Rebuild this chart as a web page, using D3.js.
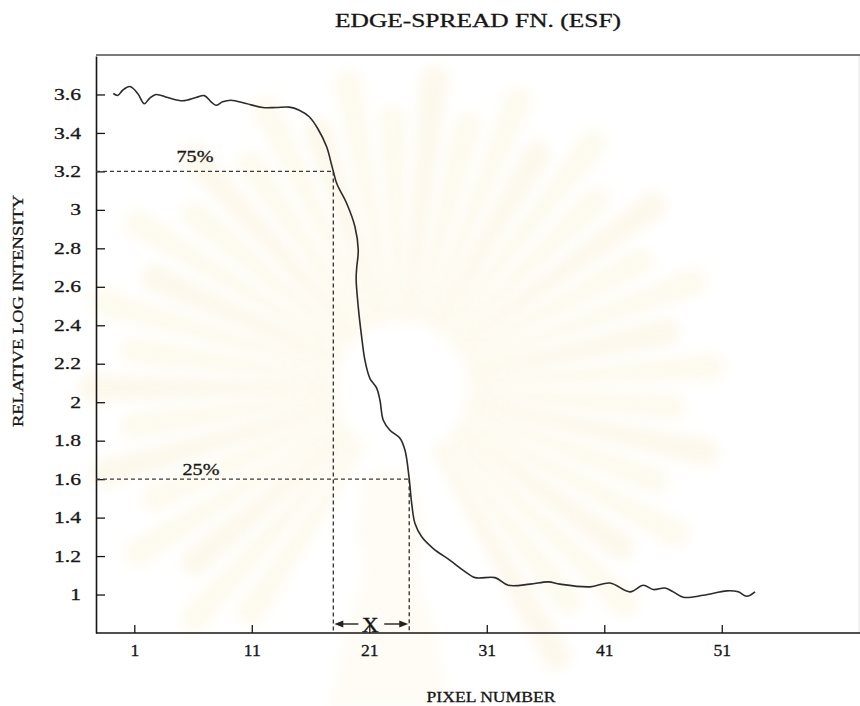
<!DOCTYPE html>
<html>
<head>
<meta charset="utf-8">
<script src="https://cdn.jsdelivr.net/npm/d3@7"></script>
<style>
  body { margin: 0; background: #fff; }
  svg { display: block; }
  text { font-family: "Liberation Serif", "Times New Roman", serif; fill: #161616; stroke: #161616; stroke-width: 0.3px; }
</style>
</head>
<body>
<svg id="chart" width="860" height="706"></svg>
<script>
// Edge-spread function samples: pixel position and relative log intensity
const pixelNumber = [
  -0.79, -0.41, 0.01, 0.63, 1.29, 1.85, 2.28, 2.85, 3.84, 5.12,
  6.25, 6.96, 7.53, 7.95, 8.52, 9.23, 10.51, 11.93, 13.06, 14.19,
  15.04, 15.89, 16.61, 17.37, 17.80, 17.94, 18.23, 19.08, 19.78, 20.06,
  19.93, 19.88, 20.06, 20.35, 20.63, 21.06, 21.63, 21.91, 22.19, 22.76,
  23.61, 24.04, 24.40, 24.61, 24.89, 25.46, 26.45, 27.87, 29.00, 30.00,
  31.70, 32.83, 34.68, 36.23, 37.23, 39.78, 41.49, 43.19, 44.32, 45.17,
  46.17, 46.87, 47.72, 49.43, 51.42, 52.40, 53.12, 53.83
];
const logIntensity = [
  3.605, 3.595, 3.622, 3.641, 3.605, 3.552, 3.579, 3.600, 3.584, 3.567,
  3.584, 3.594, 3.562, 3.544, 3.562, 3.570, 3.553, 3.532, 3.532, 3.534,
  3.518, 3.484, 3.423, 3.328, 3.232, 3.200, 3.137, 3.033, 2.912, 2.790,
  2.700, 2.640, 2.496, 2.340, 2.218, 2.123, 2.073, 2.010, 1.906, 1.854,
  1.813, 1.750, 1.600, 1.473, 1.369, 1.300, 1.239, 1.178, 1.126, 1.088,
  1.088, 1.048, 1.054, 1.066, 1.054, 1.040, 1.060, 1.014, 1.048, 1.026,
  1.034, 1.014, 0.986, 0.996, 1.019, 1.014, 0.991, 1.014
];

// Axis ticks
const xTicks = [1, 11, 21, 31, 41, 51];
const yTicks = [1, 1.2, 1.4, 1.6, 1.8, 2, 2.2, 2.4, 2.6, 2.8, 3, 3.2, 3.4, 3.6];

// 75% / 25% reference levels and the pixel where the edge crosses them
const levelLabels = ["75%", "25%"];
const levelValues = [3.2, 1.6];
const levelPixels = [17.94, 24.4];

const titleText = "EDGE-SPREAD FN. (ESF)";
const xTitle = "PIXEL NUMBER";
const yTitle = "RELATIVE LOG INTENSITY";
const widthLabel = "X";

const svg = d3.select("#chart");
const W = 860, H = 706;
const plotL = 96, plotR = 859, plotT = 56, plotB = 633;

const x = d3.scaleLinear().domain([-2.26, 62.68]).range([plotL, plotR]);
const y = d3.scaleLinear().domain([0.8, 3.8]).range([plotB, plotT]);

// Faint background emblem: blurred rays around a pale centre
const defs = svg.append("defs");
defs.append("filter").attr("id", "soft")
  .attr("x", "-20%").attr("y", "-20%").attr("width", "140%").attr("height", "140%")
  .append("feGaussianBlur").attr("stdDeviation", 6);

const emblem = svg.append("g").attr("filter", "url(#soft)").attr("opacity", 0.13);
const cx = 402, cy = 388;
const rayAngles = d3.range(-180, 180, 8).filter(a => !(a > 62 && a < 118));
rayAngles.forEach((a, i) => {
  const t = a * Math.PI / 180;
  const r0 = 66, r1 = 230 + (i % 2 ? 40 : 80);
  const w0 = 4, w1 = 14;
  const ux = Math.cos(t), uy = Math.sin(t), px = -uy, py = ux;
  const p = d3.path();
  p.moveTo(cx + ux * r0 + px * w0, cy + uy * r0 + py * w0);
  p.lineTo(cx + ux * r1 + px * w1, cy + uy * r1 + py * w1);
  p.arc(cx + ux * r1, cy + uy * r1, w1, t + Math.PI / 2, t - Math.PI / 2, true);
  p.lineTo(cx + ux * r0 - px * w0, cy + uy * r0 - py * w0);
  p.closePath();
  emblem.append("path").attr("d", p.toString())
    .attr("fill", i % 3 === 0 ? "#f0cc70" : "#f2dc84");
});
// crowned pedestal below the rays
emblem.append("path")
  .attr("d", "M365,480 Q390,455 415,480 L425,540 Q405,560 430,610 L450,706 L330,706 L352,610 Q377,560 356,540 Z")
  .attr("fill", "#f2dc84").attr("opacity", 0.7);

// Frame: top and right borders
svg.append("line").attr("x1", plotL).attr("x2", W).attr("y1", plotT - 1).attr("y2", plotT - 1)
  .attr("stroke", "#7a7a7a").attr("stroke-width", 2);
svg.append("line").attr("x1", plotR).attr("x2", plotR).attr("y1", plotT).attr("y2", plotB)
  .attr("stroke", "#e6e6e6").attr("stroke-width", 1);

// Y axis with inward ticks
const yAxis = svg.append("g").attr("transform", `translate(${plotL},0)`)
  .call(d3.axisLeft(y).tickValues(yTicks).tickSize(-9).tickSizeOuter(0)
    .tickPadding(15).tickFormat(d => String(d)));
// X axis with upward ticks
const xAxis = svg.append("g").attr("transform", `translate(0,${plotB})`)
  .call(d3.axisBottom(x).tickValues(xTicks).tickSize(-8).tickSizeOuter(0)
    .tickPadding(12).tickFormat(d => String(d)));
xAxis.select(".domain").attr("d", `M${plotL},0H${W}`);

[yAxis, xAxis].forEach(g => {
  g.select(".domain").attr("stroke", "#161616").attr("stroke-width", 1.6);
  g.selectAll(".tick line").attr("stroke", "#161616").attr("stroke-width", 1.3);
  g.selectAll(".tick text").attr("fill", "#161616")
    .style("font-family", '"Liberation Serif", serif').style("font-size", "16px");
});
// wide, scanned-looking numerals
yAxis.selectAll(".tick text").attr("x", 0).attr("transform", "translate(-15,0) scale(1.35,1)");
xAxis.selectAll(".tick text").attr("transform", "scale(1.1,1)");

// Dashed reference levels
const refs = svg.append("g").attr("stroke", "#3a3a3a").attr("stroke-width", 1.4)
  .attr("stroke-dasharray", "4,3").attr("fill", "none");
levelValues.forEach((v, i) => {
  refs.append("line").attr("x1", plotL).attr("x2", x(levelPixels[i]))
    .attr("y1", y(v)).attr("y2", y(v));
  refs.append("line").attr("x1", x(levelPixels[i])).attr("x2", x(levelPixels[i]))
    .attr("y1", y(v)).attr("y2", plotB);
});
const labelX = [195, 201], labelLift = [9, 4];
levelLabels.forEach((t, i) => {
  svg.append("text").attr("x", labelX[i]).attr("y", y(levelValues[i]) - labelLift[i])
    .attr("text-anchor", "middle").style("font-size", "17px")
    .attr("textLength", 37).attr("lengthAdjust", "spacingAndGlyphs").text(t);
});

// ESF curve
const pts = pixelNumber.map((p, i) => [p, logIntensity[i]]);
svg.append("path").datum(pts)
  .attr("d", d3.line().x(d => x(d[0])).y(d => y(d[1])).curve(d3.curveCatmullRom.alpha(0.5)))
  .attr("fill", "none").attr("stroke", "#2b2b2b").attr("stroke-width", 1.6);

// Edge width marker between the two crossings
const xa = x(levelPixels[0]), xb = x(levelPixels[1]), ay = plotB - 9;
const arr = svg.append("g").attr("stroke", "#222").attr("fill", "#222");
arr.append("line").attr("x1", xa + 8).attr("x2", xa + 25).attr("y1", ay).attr("y2", ay).attr("stroke-width", 1.4);
arr.append("path").attr("d", `M${xa + 1},${ay} L${xa + 10},${ay - 3.5} L${xa + 10},${ay + 3.5} Z`).attr("stroke", "none");
arr.append("line").attr("x1", xb - 25).attr("x2", xb - 8).attr("y1", ay).attr("y2", ay).attr("stroke-width", 1.4);
arr.append("path").attr("d", `M${xb - 1},${ay} L${xb - 10},${ay - 3.5} L${xb - 10},${ay + 3.5} Z`).attr("stroke", "none");
svg.append("text").attr("x", (xa + xb) / 2 - 1).attr("y", ay + 8)
  .attr("text-anchor", "middle").style("font-size", "22px")
  .attr("textLength", 17).attr("lengthAdjust", "spacingAndGlyphs").text(widthLabel);

// Titles
svg.append("text").attr("x", 478).attr("y", 27).attr("text-anchor", "middle")
  .style("font-size", "19px").attr("textLength", 286).attr("lengthAdjust", "spacingAndGlyphs")
  .text(titleText);
svg.append("text").attr("x", 491).attr("y", 702).attr("text-anchor", "middle")
  .style("font-size", "15px").attr("textLength", 129).attr("lengthAdjust", "spacingAndGlyphs")
  .text(xTitle);
svg.append("text").attr("transform", "translate(23,311) rotate(-90)").attr("text-anchor", "middle")
  .style("font-size", "15px").attr("textLength", 232).attr("lengthAdjust", "spacingAndGlyphs")
  .text(yTitle);
</script>
</body>
</html>
